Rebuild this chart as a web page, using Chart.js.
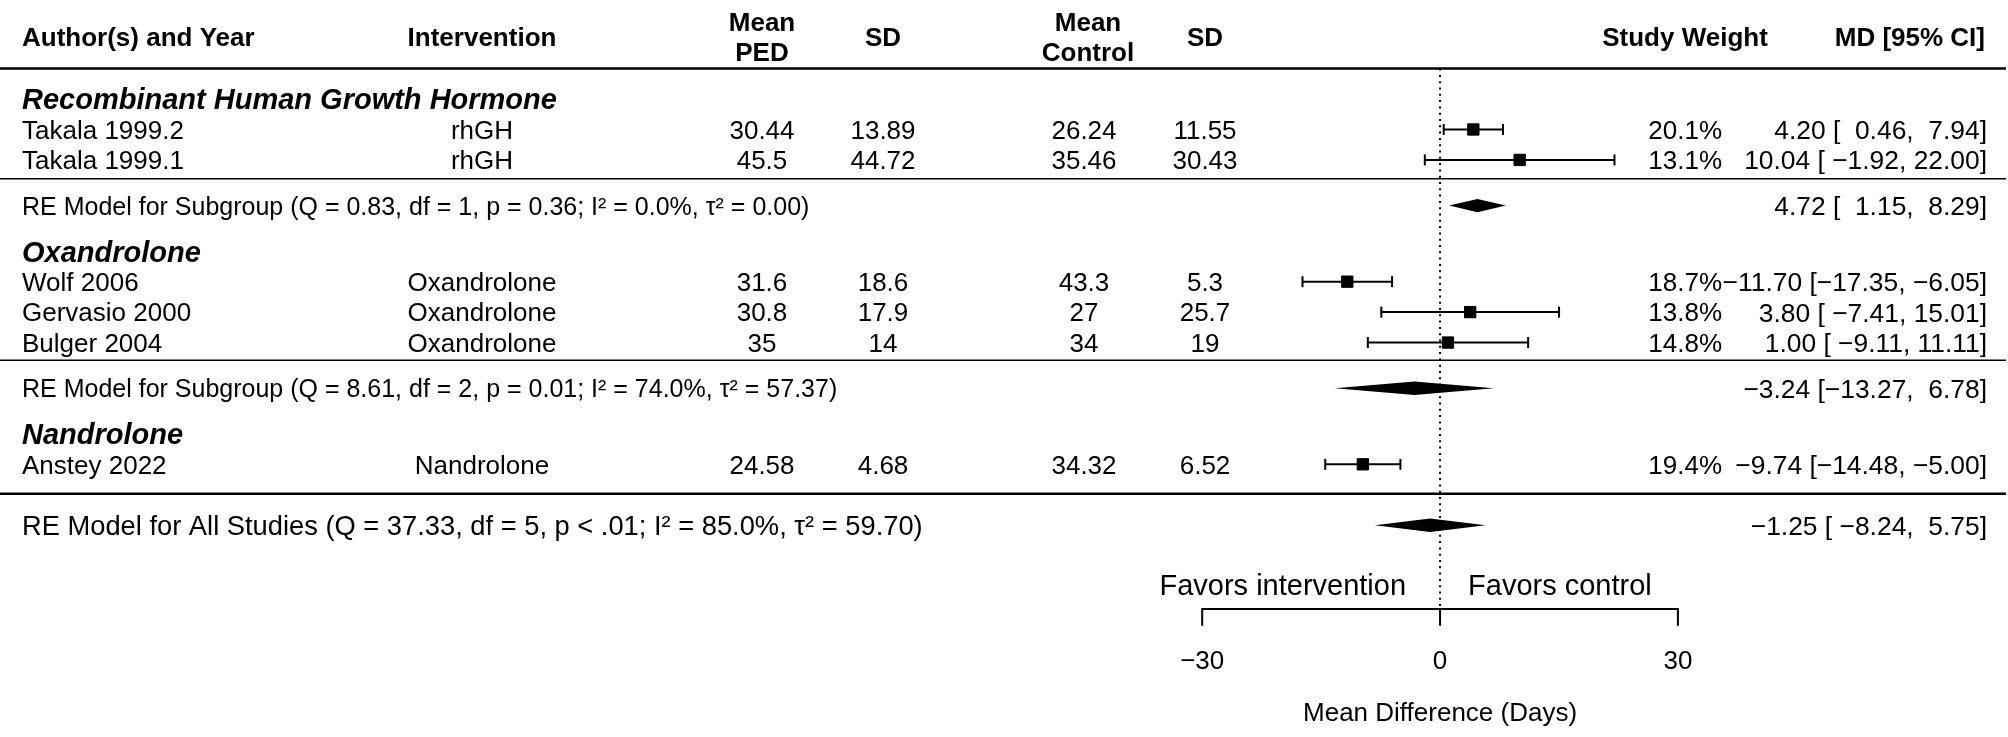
<!DOCTYPE html>
<html>
<head>
<meta charset="utf-8">
<script src="https://cdn.jsdelivr.net/npm/chart.js@4.4.1/dist/chart.umd.min.js"></script>
<style>
html,body{margin:0;padding:0;background:#fff;overflow:hidden}
canvas{display:block}
</style>
</head>
<body>
<canvas id="c" width="2008" height="737"></canvas>
<script>
// ---------------- data ----------------
const groupNames = ['Recombinant Human Growth Hormone', 'Oxandrolone', 'Nandrolone'];
const studyNames = ['Takala 1999.2', 'Takala 1999.1', 'Wolf 2006', 'Gervasio 2000', 'Bulger 2004', 'Anstey 2022'];
const interventions = ['rhGH', 'rhGH', 'Oxandrolone', 'Oxandrolone', 'Oxandrolone', 'Nandrolone'];
const meanPED = [30.44, 45.5, 31.6, 30.8, 35, 24.58];
const sdPED = [13.89, 44.72, 18.6, 17.9, 14, 4.68];
const meanControl = [26.24, 35.46, 43.3, 27, 34, 34.32];
const sdControl = [11.55, 30.43, 5.3, 25.7, 19, 6.52];
const studyWeight = [20.1, 13.1, 18.7, 13.8, 14.8, 19.4];
const md = [4.20, 10.04, -11.70, 3.80, 1.00, -9.74];
const mdLower = [0.46, -1.92, -17.35, -7.41, -9.11, -14.48];
const mdUpper = [7.94, 22.00, -6.05, 15.01, 11.11, -5.00];

const subgroupLabels = [
  'RE Model for Subgroup (Q = 0.83, df = 1, p = 0.36; I\u00B2 = 0.0%, \u03C4\u00B2 = 0.00)',
  'RE Model for Subgroup (Q = 8.61, df = 2, p = 0.01; I\u00B2 = 74.0%, \u03C4\u00B2 = 57.37)'
];
const subgroupMD = [4.72, -3.24];
const subgroupLower = [1.15, -13.27];
const subgroupUpper = [8.29, 6.78];

const overallLabel = ['RE Model for All Studies (Q = 37.33, df = 5, p < .01; I\u00B2 = 85.0%, \u03C4\u00B2 = 59.70)'];
const overallMD = [-1.25];
const overallLower = [-8.24];
const overallUpper = [5.75];

const refLine = 0;
const xTicks = [-30, 0, 30];
const favorsLabels = ['Favors intervention', 'Favors control'];
const xTitle = 'Mean Difference (Days)';
const columnHeaders = ['Author(s) and Year', 'Intervention', ['Mean', 'PED'], 'SD', ['Mean', 'Control'], 'SD', 'Study Weight', 'MD [95% CI]'];

// ---------------- layout (row units, not data) ----------------
const ROWS = {
  study: [14, 13, 9, 8, 7, 3],
  group: [15, 10, 4],
  subgroup: [11.5, 5.5],
  overall: 1,
  header: 17.05, headerTop: 17.55, headerBottom: 16.55,
  thick: [16, 2.03], thin: [12.38, 6.42],
  favors: -0.95, axis: -1.75, tickEnd: -2.3, tickLabel: -3.42, title: -5.12
};
const COL = { author: 22, interv: 482, meanPED: 762, sdPED: 883, meanCtl: 1084, meanCtlHead: 1088, sdCtl: 1205,
              weightRight: 1722, weightHead: 1685, mdRight: 1987, mdHeadRight: 1985 };
const FONT = '"Liberation Sans", Arial, Helvetica, sans-serif';

// ---------------- helpers ----------------
function num2(v) { return (v < 0 ? '-' : '') + Math.abs(v).toFixed(2); }
function padL(s, w) { while (s.length < w) s = ' ' + s; return s; }
const allEst = md.concat(subgroupMD, overallMD);
const allLo = mdLower.concat(subgroupLower, overallLower);
const allHi = mdUpper.concat(subgroupUpper, overallUpper);
const wE = Math.max(...allEst.map(v => num2(v).length));
const wL = Math.max(...allLo.map(v => num2(v).length));
const wH = Math.max(...allHi.map(v => num2(v).length));
function ciText(e, l, h) {
  return (padL(num2(e), wE) + ' [' + padL(num2(l), wL) + ', ' + padL(num2(h), wH) + ']').trim().replace(/-/g, '\u2212');
}

// ---------------- datasets ----------------
const datasets = [];
studyNames.forEach((s, i) => {
  datasets.push({
    label: 'ci ' + s,
    data: [{ x: mdLower[i], y: ROWS.study[i] }, { x: mdUpper[i], y: ROWS.study[i] }],
    showLine: true, borderColor: '#000', borderWidth: 2,
    pointStyle: 'line', pointRotation: 90, pointRadius: 5.5,
    pointBorderColor: '#000', pointBorderWidth: 2, pointHoverRadius: 5.5
  });
});
datasets.push({
  label: 'estimates',
  data: md.map((v, i) => ({ x: v, y: ROWS.study[i] })),
  pointStyle: 'rect', pointRadius: 8, pointHoverRadius: 8,
  backgroundColor: '#000', borderColor: '#000', pointBorderWidth: 1
});
datasets.push({
  label: 'refline',
  data: [{ x: refLine, y: ROWS.thick[0] }, { x: refLine, y: ROWS.axis }],
  showLine: true, borderColor: '#000', borderWidth: 2, borderDash: [2, 4.3], pointRadius: 0
});
datasets.push({
  label: 'axis',
  data: [{ x: xTicks[0], y: ROWS.tickEnd }, { x: xTicks[0], y: ROWS.axis },
         { x: xTicks[xTicks.length - 1], y: ROWS.axis }, { x: xTicks[xTicks.length - 1], y: ROWS.tickEnd }],
  showLine: true, borderColor: '#000', borderWidth: 2, pointRadius: 0, tension: 0
});
xTicks.slice(1, -1).forEach(t => {
  datasets.push({
    label: 'tick ' + t,
    data: [{ x: t, y: ROWS.axis }, { x: t, y: ROWS.tickEnd }],
    showLine: true, borderColor: '#000', borderWidth: 2, pointRadius: 0
  });
});

// ---------------- drawing plugin ----------------
function txt(ctx, s, x, y, size, align, weight, style) {
  ctx.font = (style || 'normal') + ' ' + (weight || 'normal') + ' ' + size + 'px ' + FONT;
  ctx.textAlign = align;
  ctx.textBaseline = 'alphabetic';
  ctx.fillStyle = '#000';
  ctx.fillText(s, x, y + 0.358 * size);
}

const forestPlugin = {
  id: 'forest',
  beforeDraw(chart) {
    const ctx = chart.ctx;
    ctx.save(); ctx.fillStyle = '#fff'; ctx.fillRect(0, 0, chart.width, chart.height); ctx.restore();
  },
  beforeDatasetsDraw(chart) {
    const ctx = chart.ctx, ys = chart.scales.y;
    ctx.save();
    ctx.strokeStyle = '#000';
    ROWS.thick.forEach(r => { ctx.lineWidth = 2.5; const y = ys.getPixelForValue(r); ctx.beginPath(); ctx.moveTo(0, y); ctx.lineTo(2006, y); ctx.stroke(); });
    ROWS.thin.forEach(r => { ctx.lineWidth = 1.5; const y = ys.getPixelForValue(r); ctx.beginPath(); ctx.moveTo(0, y); ctx.lineTo(2006, y); ctx.stroke(); });
    ctx.restore();
  },
  afterDatasetsDraw(chart) {
    const ctx = chart.ctx, xs = chart.scales.x, ys = chart.scales.y;
    const Y = r => ys.getPixelForValue(r);
    ctx.save();
    // diamonds
    const diamonds = [];
    subgroupMD.forEach((v, i) => diamonds.push([v, subgroupLower[i], subgroupUpper[i], ROWS.subgroup[i]]));
    overallMD.forEach((v, i) => diamonds.push([v, overallLower[i], overallUpper[i], ROWS.overall]));
    ctx.fillStyle = '#000';
    diamonds.forEach(([e, l, h, r]) => {
      const y = Y(r), hh = 6.7;
      ctx.beginPath();
      ctx.moveTo(xs.getPixelForValue(l), y);
      ctx.lineTo(xs.getPixelForValue(e), y - hh);
      ctx.lineTo(xs.getPixelForValue(h), y);
      ctx.lineTo(xs.getPixelForValue(e), y + hh);
      ctx.closePath();
      ctx.fill();
    });
    // headers
    const hs = 26;
    txt(ctx, columnHeaders[0], COL.author, Y(ROWS.header), hs, 'left', 'bold');
    txt(ctx, columnHeaders[1], COL.interv, Y(ROWS.header), hs, 'center', 'bold');
    txt(ctx, columnHeaders[2][0], COL.meanPED, Y(ROWS.headerTop), hs, 'center', 'bold');
    txt(ctx, columnHeaders[2][1], COL.meanPED, Y(ROWS.headerBottom), hs, 'center', 'bold');
    txt(ctx, columnHeaders[3], COL.sdPED, Y(ROWS.header), hs, 'center', 'bold');
    txt(ctx, columnHeaders[4][0], COL.meanCtlHead, Y(ROWS.headerTop), hs, 'center', 'bold');
    txt(ctx, columnHeaders[4][1], COL.meanCtlHead, Y(ROWS.headerBottom), hs, 'center', 'bold');
    txt(ctx, columnHeaders[5], COL.sdCtl, Y(ROWS.header), hs, 'center', 'bold');
    txt(ctx, columnHeaders[6], COL.weightHead, Y(ROWS.header), hs, 'center', 'bold');
    txt(ctx, columnHeaders[7], COL.mdHeadRight, Y(ROWS.header), hs, 'right', 'bold');
    // group headings
    groupNames.forEach((g, i) => txt(ctx, g, COL.author, Y(ROWS.group[i]), 29, 'left', 'bold', 'italic'));
    // study rows
    const fs = 26;
    studyNames.forEach((s, i) => {
      const y = Y(ROWS.study[i]);
      txt(ctx, s, COL.author, y, fs, 'left');
      txt(ctx, interventions[i], COL.interv, y, fs, 'center');
      txt(ctx, String(meanPED[i]), COL.meanPED, y, fs, 'center');
      txt(ctx, String(sdPED[i]), COL.sdPED, y, fs, 'center');
      txt(ctx, String(meanControl[i]), COL.meanCtl, y, fs, 'center');
      txt(ctx, String(sdControl[i]), COL.sdCtl, y, fs, 'center');
      txt(ctx, studyWeight[i].toFixed(1) + '%', COL.weightRight, y, fs, 'right');
      txt(ctx, ciText(md[i], mdLower[i], mdUpper[i]), COL.mdRight, y, 26.4, 'right');
    });
    // subgroup and overall rows
    subgroupLabels.forEach((s, i) => {
      const y = Y(ROWS.subgroup[i]);
      txt(ctx, s, COL.author, y, 25, 'left');
      txt(ctx, ciText(subgroupMD[i], subgroupLower[i], subgroupUpper[i]), COL.mdRight, y, 26.4, 'right');
    });
    txt(ctx, overallLabel[0], COL.author, Y(ROWS.overall), 27.3, 'left');
    txt(ctx, ciText(overallMD[0], overallLower[0], overallUpper[0]), COL.mdRight, Y(ROWS.overall), 26.4, 'right');
    // axis labels
    const x0 = xs.getPixelForValue(refLine);
    txt(ctx, favorsLabels[0], x0 - 34, Y(ROWS.favors), 29, 'right');
    txt(ctx, favorsLabels[1], x0 + 28, Y(ROWS.favors), 29, 'left');
    xTicks.forEach(t => txt(ctx, String(t).replace('-', '\u2212'), xs.getPixelForValue(t), Y(ROWS.tickLabel), 26, 'center'));
    txt(ctx, xTitle, x0, Y(ROWS.title), 26, 'center');
    ctx.restore();
  }
};

new Chart(document.getElementById('c'), {
  type: 'scatter',
  data: { datasets },
  options: {
    responsive: false,
    devicePixelRatio: 1,
    animation: false,
    events: [],
    layout: { padding: 0 },
    plugins: { legend: { display: false }, tooltip: { enabled: false } },
    scales: {
      x: { type: 'linear', min: -180.5, max: 70.5, display: false },
      y: { type: 'linear', min: -5.663, max: 17.958, display: false }
    }
  },
  plugins: [forestPlugin]
});
</script>
</body>
</html>
